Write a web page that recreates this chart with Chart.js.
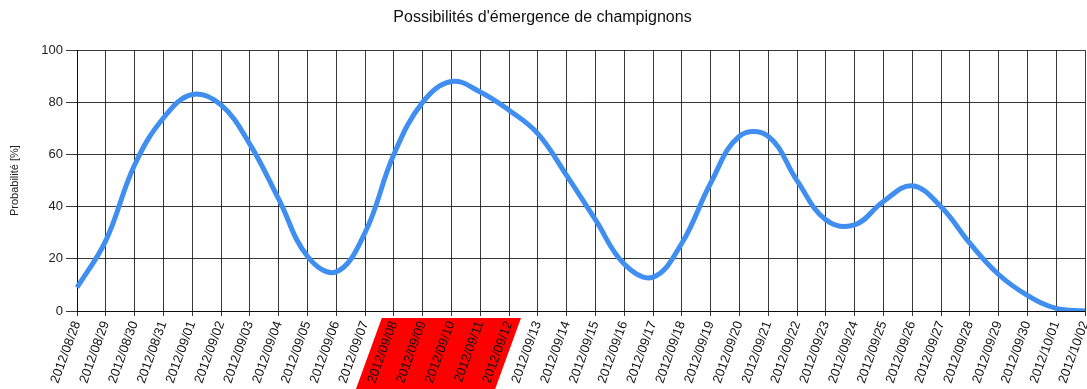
<!DOCTYPE html>
<html>
<head>
<meta charset="utf-8">
<script src="https://cdn.jsdelivr.net/npm/chart.js@4/dist/chart.umd.min.js"></script>
<style>html,body{margin:0;background:#fff}</style>
</head>
<body>
<canvas id="c" width="1087" height="389"></canvas>
<script>
const labels = ['2012/08/28','2012/08/29','2012/08/30','2012/08/31','2012/09/01','2012/09/02','2012/09/03',
  '2012/09/04','2012/09/05','2012/09/06','2012/09/07','2012/09/08','2012/09/09','2012/09/10','2012/09/11',
  '2012/09/12','2012/09/13','2012/09/14','2012/09/15','2012/09/16','2012/09/17','2012/09/18','2012/09/19',
  '2012/09/20','2012/09/21','2012/09/22','2012/09/23','2012/09/24','2012/09/25','2012/09/26','2012/09/27',
  '2012/09/28','2012/09/29','2012/09/30','2012/10/01','2012/10/02'];
const probability = [9,27,56,74,83,79,64,43,21,15,30,60,80,88,84,77,68,52,35,18,13,26,49,67,67,50,35,33,42,48,40,26,14,6,1,0];
const highlightFrom = '2012/09/08';
const highlightTo = '2012/09/12';
const yMin = 0, yMax = 100, yStep = 20;

const gridCol = 'rgba(0,0,0,0.78)';
const font = 'Liberation Sans, Arial, sans-serif';

// red band behind the highlighted date labels
const redLabels = {
  id: 'redLabels',
  beforeDraw(chart) {
    const x = chart.scales.x, c = chart.ctx;
    const top = x.top + 7, bot = chart.height;
    const slant = (bot - top) / Math.tan(70 * Math.PI / 180);
    const l = x.getPixelForValue(labels.indexOf(highlightFrom)) - 12;
    const r = x.getPixelForValue(labels.indexOf(highlightTo)) + 12;
    c.save();
    c.fillStyle = '#ff0000';
    c.beginPath();
    c.moveTo(l, top); c.lineTo(r, top); c.lineTo(r - slant, bot); c.lineTo(l - slant, bot);
    c.closePath(); c.fill();
    c.restore();
  }
};

new Chart(document.getElementById('c'), {
  type: 'line',
  data: {
    labels: labels,
    datasets: [{
      data: probability,
      borderColor: '#3f8ef0',
      borderWidth: 5,
      pointRadius: 0,
      tension: 0.4,
      fill: false
    }]
  },
  options: {
    responsive: false,
    animation: false,
    layout: {padding: {right: 2}},
    plugins: {
      legend: {display: false},
      tooltip: {enabled: false},
      title: {
        display: true,
        text: "Possibilités d'émergence de champignons",
        color: '#111',
        font: {family: font, size: 16, weight: 'normal'},
        padding: {top: 8, bottom: 23}
      }
    },
    scales: {
      x: {
        grid: {color: gridCol, tickLength: 5, tickColor: gridCol},
        border: {color: gridCol},
        ticks: {
          color: '#111', autoSkip: false, minRotation: 70, maxRotation: 70, padding: 3,
          font: {family: font, size: 13}
        },
        afterFit(s) { s.height = 78; s.paddingLeft = 0; s.paddingRight = 0; }
      },
      y: {
        min: yMin, max: yMax,
        grid: {color: gridCol, tickLength: 11, tickColor: gridCol},
        border: {color: gridCol},
        ticks: {stepSize: yStep, color: '#222', padding: 3, font: {family: font, size: 13}},
        title: {
          display: true, text: 'Probabilité [%]', color: '#222',
          font: {family: font, size: 11}, padding: {top: 8, bottom: 0}
        },
        afterFit(s) { s.width = 77; }
      }
    }
  },
  plugins: [redLabels]
});
</script>
</body>
</html>
